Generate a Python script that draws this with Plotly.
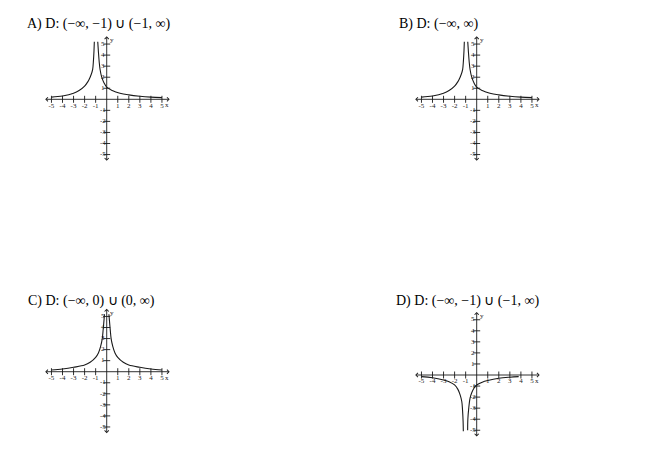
import plotly.graph_objects as go

# Titles of the four answer choices
titles = ["A) D: (\u2212\u221e, \u22121) \u222a (\u22121, \u221e)",
          "B) D: (\u2212\u221e, \u221e)",
          "C) D: (\u2212\u221e, 0) \u222a (0, \u221e)",
          "D) D: (\u2212\u221e, \u22121) \u222a (\u22121, \u221e)"]

# Axis ticks and labels (same on every graph)
ticks = [-5, -4, -3, -2, -1, 1, 2, 3, 4, 5]
tick_labels = ["-5", "-4", "-3", "-2", "-1", "1", "2", "3", "4", "5"]

# Curve points
# A and B: same curve, asymptote near x = -1
ab_left_x = [-5, -4, -3, -2.5, -2, -1.7, -1.5, -1.35, -1.27, -1.2, -1.15, -1.12]
ab_left_y = [0.2, 0.3, 0.55, 0.8, 1.2, 1.6, 2.0, 2.4, 2.7, 3.5, 4.4, 5.2]
ab_right_x = [-0.81, -0.75, -0.68, -0.6, -0.45, -0.25, 0, 0.5, 1.2, 2, 3, 4, 5]
ab_right_y = [5.2, 4.3, 3.4, 2.7, 2.0, 1.5, 1.1, 0.8, 0.55, 0.4, 0.28, 0.2, 0.15]

# C: asymptote at x = 0
c_left_x = [-5, -4, -3, -2, -1.5, -1, -0.75, -0.55, -0.4, -0.32, -0.25, -0.2]
c_left_y = [0.15, 0.25, 0.4, 0.6, 0.85, 1.3, 1.7, 2.3, 3.0, 3.8, 4.6, 5.2]
c_right_x = [0.2, 0.25, 0.32, 0.4, 0.55, 0.75, 1, 1.5, 2, 3, 4, 5]
c_right_y = [5.2, 4.6, 3.8, 3.0, 2.3, 1.7, 1.3, 0.85, 0.6, 0.4, 0.25, 0.15]

# D: below the x-axis, asymptote near x = -1
d_left_x = [-5, -4, -3, -2.5, -2, -1.7, -1.5, -1.35, -1.28, -1.23, -1.21]
d_left_y = [-0.15, -0.25, -0.45, -0.6, -0.9, -1.3, -1.8, -2.4, -3.2, -4.2, -5.1]
d_right_x = [-0.82, -0.8, -0.72, -0.6, -0.45, -0.25, 0, 0.5, 1, 2, 3, 3.8]
d_right_y = [-5.0, -4.0, -3.0, -2.1, -1.6, -1.2, -0.9, -0.65, -0.5, -0.3, -0.2, -0.15]

curves = [
    [(ab_left_x, ab_left_y), (ab_right_x, ab_right_y)],
    [(ab_left_x, ab_left_y), (ab_right_x, ab_right_y)],
    [(c_left_x, c_left_y), (c_right_x, c_right_y)],
    [(d_left_x, d_left_y), (d_right_x, d_right_y)],
]

W, H = 653, 476
OFF = 8  # page margin of the html body

# graph centres (pixels on the page) and pixels per unit
centres = [(106.7, 99.3), (476.7, 99.3), (106.7, 371.7), (476.7, 375.0)]
PPU = 11.05
LIM = 5.7
title_pos = [(25, 24), (397, 24), (26, 301), (394, 301)]
INK = "#1a1a1a"

fig = go.Figure()
layout = dict(width=W, height=H, margin=dict(l=0, r=0, t=0, b=0),
              paper_bgcolor="white", plot_bgcolor="white", showlegend=False)
annotations = []

for i in range(4):
    n = "" if i == 0 else str(i + 1)
    xa, ya = "x" + n, "y" + n
    cx, cy = centres[i][0] - OFF, centres[i][1] - OFF
    half = LIM * PPU
    layout["xaxis" + n] = dict(domain=[(cx - half) / W, (cx + half) / W], range=[-LIM, LIM],
                               visible=False, anchor=ya, fixedrange=True)
    layout["yaxis" + n] = dict(domain=[1 - (cy + half) / H, 1 - (cy - half) / H], range=[-LIM, LIM],
                               visible=False, anchor=xa, fixedrange=True)

    # curves
    for px, py in curves[i]:
        fig.add_trace(go.Scatter(x=px, y=py, mode="lines", xaxis=xa, yaxis=ya,
                                 line=dict(color=INK, width=1.1, shape="spline"),
                                 hoverinfo="skip"))

    # tick marks
    fig.add_trace(go.Scatter(x=ticks, y=[0] * len(ticks), mode="markers", xaxis=xa, yaxis=ya,
                             marker=dict(symbol="line-ns", size=5, line=dict(color=INK, width=0.9)),
                             hoverinfo="skip"))
    fig.add_trace(go.Scatter(x=[0] * len(ticks), y=ticks, mode="markers", xaxis=xa, yaxis=ya,
                             marker=dict(symbol="line-ew", size=5, line=dict(color=INK, width=0.9)),
                             hoverinfo="skip"))
    # tick labels
    fig.add_trace(go.Scatter(x=ticks, y=[-0.6] * len(ticks), mode="text", text=tick_labels,
                             xaxis=xa, yaxis=ya, cliponaxis=False,
                             textfont=dict(family="Liberation Serif", size=7, color=INK),
                             hoverinfo="skip"))
    fig.add_trace(go.Scatter(x=[-0.35] * len(ticks), y=ticks, mode="text", text=tick_labels,
                             xaxis=xa, yaxis=ya, cliponaxis=False,
                             textfont=dict(family="Liberation Serif", size=7, color=INK),
                             hoverinfo="skip"))
    # axis letters
    annotations.append(dict(x=5.45, y=-0.55, xref=xa, yref=ya, text="x", showarrow=False,
                            font=dict(family="Liberation Serif", size=7, color=INK)))
    annotations.append(dict(x=0.45, y=5.35, xref=xa, yref=ya, text="y", showarrow=False,
                            font=dict(family="Liberation Serif", size=7, color=INK)))

    # axes with arrows on both ends
    for (x0, y0, x1, y1) in [(-LIM, 0, LIM, 0), (0, -LIM, 0, LIM)]:
        annotations.append(dict(x=x1, y=y1, ax=x0, ay=y0, xref=xa, yref=ya, axref=xa, ayref=ya,
                                text="", showarrow=True, arrowside="end+start",
                                arrowhead=4, startarrowhead=4, arrowsize=0.9, startarrowsize=0.9,
                                arrowwidth=0.9, arrowcolor=INK))

    # title
    tx, ty = title_pos[i]
    annotations.append(dict(x=(tx - OFF) / W, y=1 - (ty - OFF) / H, xref="paper", yref="paper",
                            xanchor="left", yanchor="middle", text=titles[i], showarrow=False,
                            font=dict(family="Liberation Serif", size=14, color="black")))

layout["annotations"] = annotations
fig.update_layout(**layout)

fig.write_html("out.html")
